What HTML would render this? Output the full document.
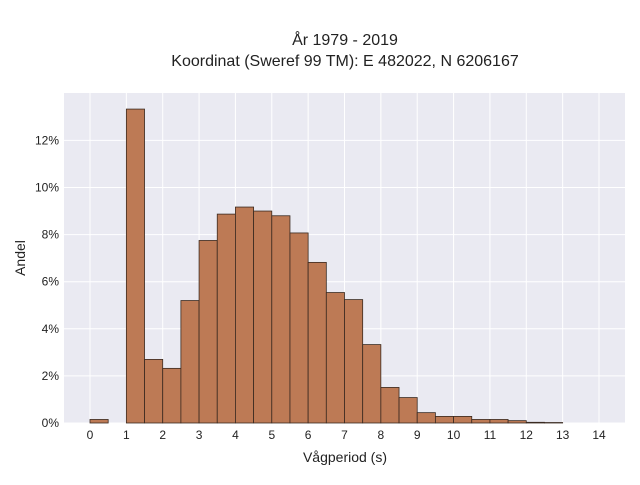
<!DOCTYPE html>
<html><head><meta charset="utf-8"><style>
body{margin:0;background:#fff;}
svg{font-family:"Liberation Sans",sans-serif;}
</style></head><body>
<svg width="640" height="480">
<text x="345" y="45" text-anchor="middle" font-size="16" fill="#222">År 1979 - 2019</text>
<text x="345" y="66" text-anchor="middle" font-size="16" fill="#222">Koordinat (Sweref 99 TM): E 482022, N 6206167</text>
<rect x="64" y="93" width="561" height="330" fill="#eaeaf2"/>
<g id="grid"></g>
<g id="bars"></g>
<g id="ticks"></g>
<text x="345" y="462" text-anchor="middle" font-size="14" fill="#222">Vågperiod (s)</text>
<text x="25" y="258" text-anchor="middle" font-size="14" fill="#222" transform="rotate(-90 25 258)">Andel</text>
</svg>
<script>
const binStarts=[0,0.5,1,1.5,2,2.5,3,3.5,4,4.5,5,5.5,6,6.5,7,7.5,8,8.5,9,9.5,10,10.5,11,11.5,12,12.5];
const shares=[0.15,0,13.33,2.7,2.32,5.2,7.75,8.87,9.17,9.0,8.8,8.07,6.82,5.54,5.24,3.33,1.51,1.08,0.44,0.28,0.28,0.15,0.15,0.1,0.03,0.02];
const xTicks=[0,1,2,3,4,5,6,7,8,9,10,11,12,13,14];
const yTicks=[0,2,4,6,8,10,12];
const binWidth=0.5;
const NS='http://www.w3.org/2000/svg';
const x=v=>90+v*(509/14);
const y=v=>423-v*23.55;
const grid=document.getElementById('grid'),bars=document.getElementById('bars'),ticks=document.getElementById('ticks');
function mk(tag,attrs,parent){const e=document.createElementNS(NS,tag);for(const k in attrs)e.setAttribute(k,attrs[k]);parent.appendChild(e);return e;}
xTicks.forEach(t=>{
 const l=mk('line',{x1:x(t),x2:x(t),y1:93,y2:423,stroke:'#fff','stroke-width':1},grid);
 
 
 const tx=mk('text',{x:x(t),y:439,'text-anchor':'middle','font-size':12,fill:'#222'},ticks);
 tx.textContent=t;
 
 
});
yTicks.forEach(t=>{
 const l=mk('line',{x1:64,x2:625,y1:y(t),y2:y(t),stroke:'#fff','stroke-width':1},grid);
 
 
 const tx=mk('text',{x:59,y:y(t)+4,'text-anchor':'end','font-size':12,fill:'#222'},ticks);
 tx.textContent=t+'%';
 
 
});
binStarts.forEach((b,i)=>{
 if(shares[i]<=0)return;
 const r=mk('rect',{x:x(b),y:y(shares[i]),width:x(b+binWidth)-x(b),height:y(0)-y(shares[i]),fill:'#bd7a55',stroke:'#3a2a20','stroke-width':0.8},bars);
 
 
});
</script>
</body></html>
